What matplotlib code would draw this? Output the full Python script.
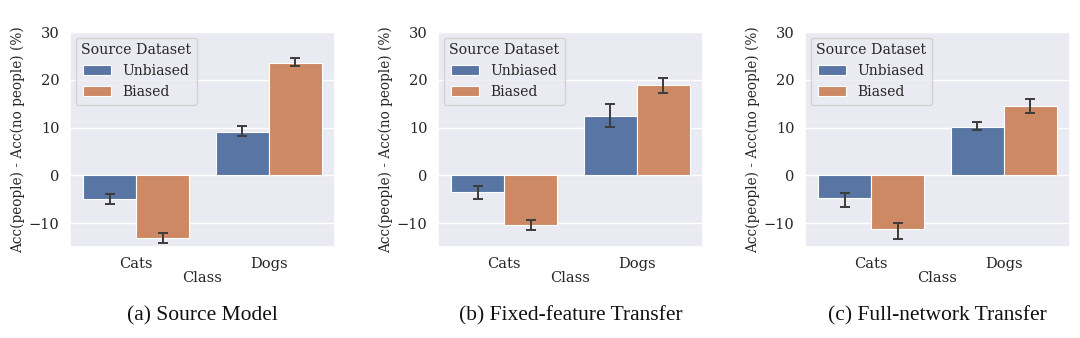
import matplotlib
matplotlib.use("Agg")
import matplotlib.pyplot as plt
import seaborn as sns
import numpy as np

sns.set_theme(style="darkgrid")
plt.rcParams['font.family'] = ['DejaVu Serif']

classes = ["Cats", "Dogs"]
series = ["Unbiased", "Biased"]
captions = ["(a) Source Model", "(b) Fixed-feature Transfer", "(c) Full-network Transfer"]

# values per panel: [series][class]
a_vals = [[-4.9, 9.1], [-13.2, 23.6]]
a_lo = [[-6.1, 8.2], [-14.1, 22.9]]
a_hi = [[-3.9, 10.3], [-12.1, 24.5]]

b_vals = [[-3.4, 12.4], [-10.3, 19.0]]
b_lo = [[-4.9, 10.1], [-11.4, 17.2]]
b_hi = [[-2.2, 14.9], [-9.4, 20.3]]

c_vals = [[-4.8, 10.2], [-11.2, 14.5]]
c_lo = [[-6.7, 9.4], [-13.3, 13.1]]
c_hi = [[-3.6, 11.1], [-9.9, 16.0]]

panels = [(a_vals, a_lo, a_hi), (b_vals, b_lo, b_hi), (c_vals, c_lo, c_hi)]
colors = ["#5975a4", "#cc8963"]

fig = plt.figure(figsize=(10.8, 3.38), dpi=100)
lefts = [70 / 1080, 438 / 1080, 805 / 1080]
width = 265 / 1080
bottom = 1 - 247 / 338
height = (247 - 32) / 338

x = np.arange(len(classes))
bw = 0.4
for i, (vals, lo, hi) in enumerate(panels):
    ax = fig.add_axes([lefts[i], bottom, width, height])
    for s in range(len(series)):
        pos = x - bw / 2 + s * bw
        v = np.array(vals[s])
        yerr = np.array([v - np.array(lo[s]), np.array(hi[s]) - v])
        ax.bar(pos, v, bw, color=colors[s], edgecolor="white", linewidth=0.8,
               label=series[s], zorder=2)
        ax.errorbar(pos, v, yerr=yerr, fmt="none", ecolor="#3c3c3c",
                    elinewidth=1.4, capsize=3.5, capthick=1.4, zorder=3)
    ax.set_xlim(-0.5, 1.5)
    ax.set_ylim(-15, 30)
    ax.set_yticks([-10, 0, 10, 20, 30])
    ax.set_xticks(x)
    ax.set_xticklabels(classes)
    ax.tick_params(labelsize=10.5, colors="#262626", pad=1.5)
    ax.set_xlabel("Class", fontsize=10.5, color="#262626", labelpad=0)
    ax.set_ylabel("Acc(people) - Acc(no people) (%)", fontsize=9.8, color="#262626", labelpad=3)
    ax.grid(axis="x", visible=False)
    leg = ax.legend(title="Source Dataset", loc="upper left", fontsize=10,
                    title_fontsize=10.2, frameon=True, borderaxespad=0.4)
    fig.text(lefts[i] + width / 2, 1 - 316 / 338, captions[i], ha="center", va="center",
             fontsize=15.5, family="Liberation Serif", color="#111111")

fig.savefig("out.png", dpi=100)
